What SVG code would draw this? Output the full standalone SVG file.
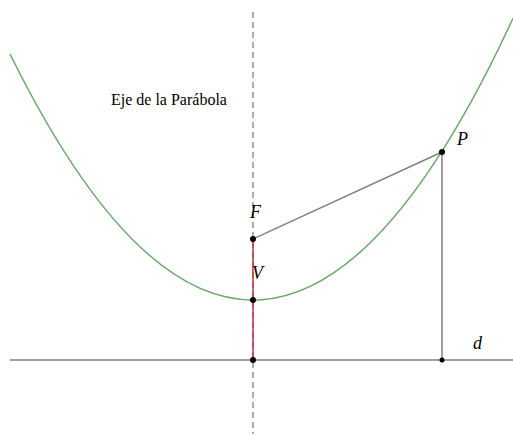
<svg xmlns="http://www.w3.org/2000/svg" width="513" height="436" viewBox="0 0 513 436">
<style>
.ln{stroke:#808080;stroke-width:1.5;fill:none}
.pt{fill:#000}
.lbl{font-family:'Liberation Serif','Times New Roman','DejaVu Serif',serif;font-style:italic;font-size:18px;fill:#000}
.txt{font-family:'Liberation Serif','Times New Roman','DejaVu Serif',serif;font-size:16px;fill:#000}
</style>
<rect width="513" height="436" fill="#fff"/>
<g id="connectors">
<line id="axis" x1="253" y1="12" x2="253" y2="434" stroke="#808080" stroke-width="1.3" stroke-dasharray="6,4"/>
<line id="directrix" class="ln" x1="10" y1="360" x2="513" y2="360"/>
<path id="parabola" d="M10,53.96 Q261.5,563.25 513,18.33" fill="none" stroke="#6aa86a" stroke-width="1.5"/>
<line class="ln" x1="253" y1="239" x2="442" y2="152"/>
<line class="ln" x1="442" y1="152" x2="442" y2="360"/>
<line x1="253" y1="239" x2="253" y2="360" stroke="#c0333f" stroke-width="1.5"/>
</g>
<g id="F"><circle class="pt" cx="253" cy="239" r="3"/><text class="lbl" x="250" y="218">F</text></g>
<g id="V"><circle class="pt" cx="253" cy="300" r="3"/><text class="lbl" x="252" y="279">V</text></g>
<g id="D"><circle class="pt" cx="253" cy="360" r="3"/></g>
<g id="P"><circle class="pt" cx="442" cy="152" r="3"/><text class="lbl" x="457" y="145">P</text></g>
<g id="Q"><circle class="pt" cx="442" cy="360" r="2.5"/></g>
<g id="d"><text class="lbl" x="473" y="349">d</text></g>
<g id="title"><text class="txt" x="111" y="105">Eje de la Parábola</text></g>
</svg>
